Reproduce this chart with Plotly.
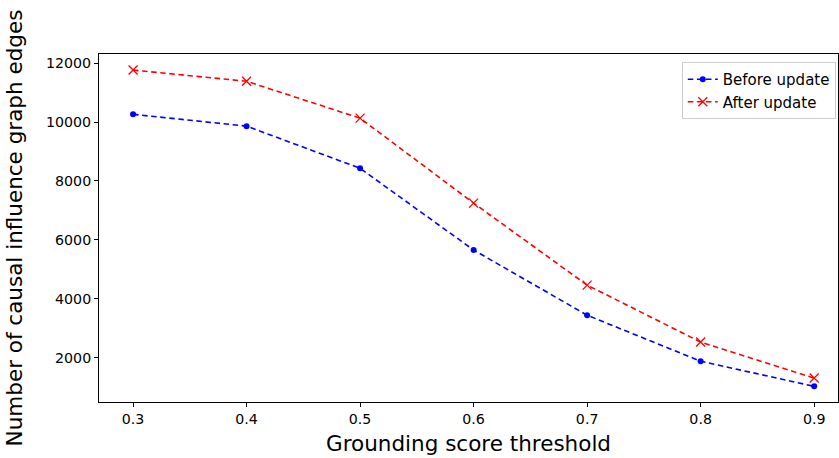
import plotly.graph_objects as go

thresholds = [0.3, 0.4, 0.5, 0.6, 0.7, 0.8, 0.9]
before_update = [10260, 9860, 8430, 5660, 3450, 1890, 1040]
after_update = [11760, 11380, 10130, 7250, 4470, 2540, 1320]
x_ticks = [0.3, 0.4, 0.5, 0.6, 0.7, 0.8, 0.9]
y_ticks = [2000, 4000, 6000, 8000, 10000, 12000]

fig = go.Figure()
fig.add_trace(go.Scatter(
    x=thresholds, y=before_update, name="Before update", mode="lines+markers",
    line=dict(color="blue", width=1.6, dash="5.5px,3.6px"),
    marker=dict(symbol="circle", size=6, color="blue"),
))
fig.add_trace(go.Scatter(
    x=thresholds, y=after_update, name="After update", mode="lines+markers",
    line=dict(color="red", width=1.6, dash="5.5px,3.6px"),
    marker=dict(symbol="x-thin", size=9, line=dict(color="red", width=1.3)),
))

axis_common = dict(
    showgrid=False, zeroline=False, showline=True, linecolor="black", linewidth=1,
    mirror=True, ticks="outside", ticklen=4, tickwidth=1, tickcolor="black",
    tickfont=dict(family="DejaVu Sans", size=14.2, color="black"),
)

fig.update_layout(
    width=839, height=458,
    margin=dict(l=99, r=1, t=54, b=56),
    plot_bgcolor="white", paper_bgcolor="white",
    font=dict(family="DejaVu Sans", color="black"),
    xaxis=dict(
        range=[0.27, 0.921], tickvals=x_ticks, ticktext=[str(v) for v in x_ticks],
        title=dict(text="Grounding score threshold", font=dict(size=21.5), standoff=9),
        **axis_common,
    ),
    yaxis=dict(
        range=[508, 12305], tickvals=y_ticks, ticktext=[str(v) for v in y_ticks],
        title=dict(text="Number of causal influence graph edges", font=dict(size=21.5), standoff=17),
        **axis_common,
    ),
    legend=dict(
        x=0.997, y=0.977, xanchor="right", yanchor="top",
        bgcolor="white", bordercolor="#cccccc", borderwidth=1,
        font=dict(family="DejaVu Sans", size=15, color="black"),
        tracegroupgap=0, itemwidth=30,
    ),
    showlegend=True,
)

fig.write_html(
    "out.html",
    config={"displayModeBar": False},
    post_script="document.body.style.margin='0';document.body.style.overflow='hidden';",
)
